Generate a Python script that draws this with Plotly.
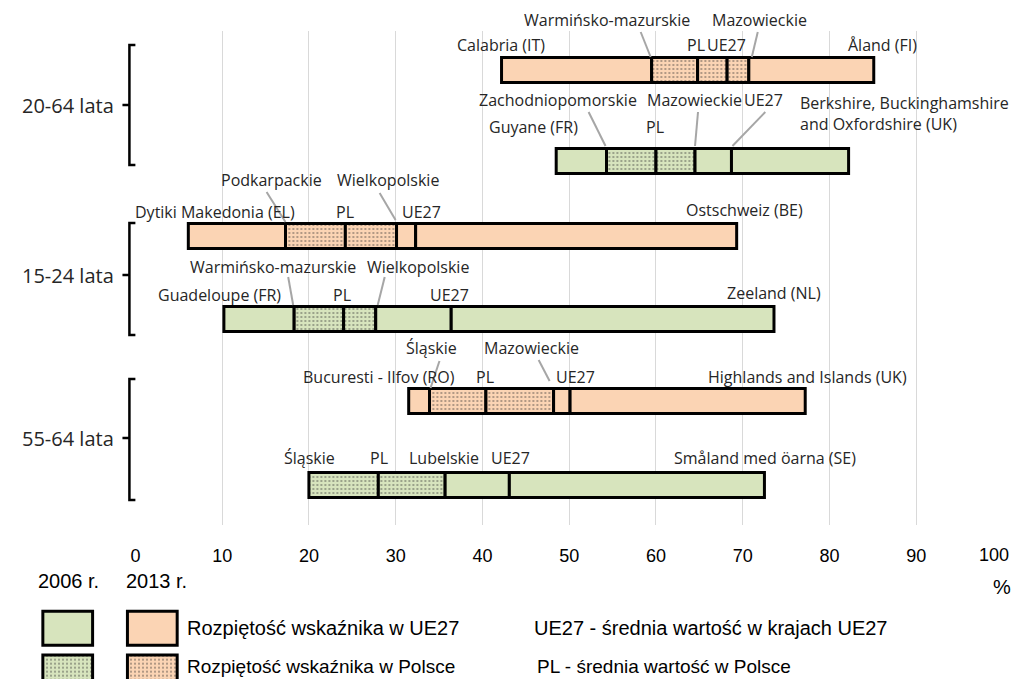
import plotly.graph_objects as go

# ---------------- DATA ----------------
AGE_GROUPS = ["20-64 lata", "15-24 lata", "55-64 lata"]
ROW_YEAR = ["2013", "2006", "2013", "2006", "2013", "2006"]
ROW_GROUP = [0, 0, 1, 1, 2, 2]

EU_MIN = [42.2, 48.5, 6.1, 10.2, 31.5, 20.0]
EU_MAX = [85.1, 82.2, 69.3, 73.6, 77.2, 72.5]
PL_MIN = [59.5, 54.3, 17.3, 18.3, 33.9, 20.0]
PL_MAX = [70.7, 64.5, 30.1, 27.7, 48.2, 35.7]
PL_AVG = [64.8, 60.0, 24.2, 24.0, 40.4, 28.0]
EU_AVG = [68.2, 68.7, 32.3, 36.4, 50.1, 43.1]

EU_MIN_REGION = ["Calabria (IT)", "Guyane (FR)", "Dytiki Makedonia (EL)",
                 "Guadeloupe (FR)", "Bucuresti - Ilfov (RO)", "Śląskie"]
EU_MAX_REGION = ["Åland (FI)", "Berkshire, Buckinghamshire<br>and Oxfordshire (UK)",
                 "Ostschweiz (BE)", "Zeeland (NL)", "Highlands and Islands (UK)",
                 "Småland med öarna (SE)"]
PL_MIN_REGION = ["Warmińsko-mazurskie", "Zachodniopomorskie", "Podkarpackie",
                 "Warmińsko-mazurskie", "Śląskie", "Śląskie"]
PL_MAX_REGION = ["Mazowieckie", "Mazowieckie", "Wielkopolskie", "Wielkopolskie",
                 "Mazowieckie", "Lubelskie"]

X_TICKS = [0, 10, 20, 30, 40, 50, 60, 70, 80, 90, 100]

LEGEND_YEARS = ["2006 r.", "2013 r."]
LEGEND_TEXT = ["Rozpiętość wskaźnika w UE27", "Rozpiętość wskaźnika w Polsce"]
LEGEND_NOTES = ["UE27 - średnia wartość w krajach UE27", "PL - średnia wartość w Polsce"]

# ---------------- LAYOUT / STYLE ----------------
OFF = 8                      # default page body margin
W, H = 1019 - 2 * OFF, 687 - 2 * OFF   # page fits the window exactly
X0_PX, X100_PX = 131, 1003
PLOT_TOP, PLOT_BOT = 31, 525
PX_PER_UNIT = (X100_PX - X0_PX) / 100.0

COLORS = {"2013": "#FBD4B4", "2006": "#D7E4BD"}
ROW_Y = [70, 161, 236, 319, 401, 485]
BAR_H = 25
TXT = "#262626"
LABEL_FONT = dict(family="Open Sans", size=16, color=TXT)
NARROW = "Liberation Sans Narrow, Arial Narrow, Liberation Sans, sans-serif"
DOT = dict(fgcolor="#333333", size=4, solidity=0.2, fillmode="overlay")

# label placement: key -> (dx px, y px, xanchor, leader(dx0,y0,dx1,y1) or None)
LABEL_POS = [
    {"eu_min": (-1, 45, "center", None), "eu_max": (9, 45, "center", None),
     "pl_min": (-45, 20, "center", (-11, 32, -1, 57)),
     "pl_max": (11, 20, "center", (9, 32, 3, 57)),
     "pl": (-2, 45, "center", None), "eu": (-1, 45, "center", None)},
    {"eu_min": (-23, 127, "center", None), "eu_max": (-51, 113, "left", None),
     "pl_min": (-49, 100, "center", (-18, 112, -1, 146)),
     "pl_max": (-1, 100, "center", (3, 112, 0, 146)),
     "pl": (-1, 127, "center", None), "eu": (32, 100, "center", (34, 112, 1, 146))},
    {"eu_min": (27, 212, "center", None), "eu_max": (8, 210, "center", None),
     "pl_min": (-14, 180, "center", (-19, 192, 0, 222)),
     "pl_max": (-9, 180, "center", (-17, 193, -1, 220)),
     "pl": (0, 212, "center", None), "eu": (6, 212, "center", None)},
    {"eu_min": (-4, 295, "center", None), "eu_max": (0, 293, "center", None),
     "pl_min": (-21, 267, "center", (-6, 277, -1, 305)),
     "pl_max": (42, 267, "center", (9, 277, 2, 305)),
     "pl": (-2, 295, "center", None), "eu": (-2, 295, "center", None)},
    {"eu_min": (-30, 377, "center", None), "eu_max": (2, 377, "center", None),
     "pl_min": (2, 348, "center", (10, 361, 1, 388)),
     "pl_max": (-22, 348, "center", (-15, 360, -4, 381)),
     "pl": (-1, 377, "center", None), "eu": (5, 377, "center", None)},
    {"eu_min": None, "eu_max": (1, 458, "center", None),
     "pl_min": (1, 458, "center", None),
     "pl_max": (-1, 458, "center", None),
     "pl": (1, 458, "center", None), "eu": (1, 458, "center", None)},
]
BRACKETS = [(45, 165, 105), (223, 335, 275), (379, 500, 438)]


def ypap(py):
    return (H - (py - OFF)) / H


def xpap(px):
    return (px - OFF) / W


fig = go.Figure()

# ---- main bars ----
for i in range(6):
    bounds = sorted(set([EU_MIN[i], PL_MIN[i], PL_AVG[i], EU_AVG[i], PL_MAX[i], EU_MAX[i]]))
    starts, widths, shapes = [], [], []
    for a, b in zip(bounds[:-1], bounds[1:]):
        starts.append(a)
        widths.append(b - a)
        shapes.append("." if (a >= PL_MIN[i] - 1e-9 and b <= PL_MAX[i] + 1e-9) else "")
    col = COLORS[ROW_YEAR[i]]
    fig.add_trace(go.Bar(
        orientation="h", y=[ROW_Y[i]] * len(starts), x=widths, base=starts,
        width=BAR_H, showlegend=False, hoverinfo="skip",
        marker=dict(color=col, line=dict(color="black", width=3),
                    pattern=dict(shape=shapes, **DOT)),
        xaxis="x", yaxis="y"))

annotations = []
shapes_list = []

# ---- bar labels ----
for i in range(6):
    items = {
        "eu_min": (EU_MIN[i], EU_MIN_REGION[i]),
        "eu_max": (EU_MAX[i], EU_MAX_REGION[i]),
        "pl_min": (PL_MIN[i], PL_MIN_REGION[i]),
        "pl_max": (PL_MAX[i], PL_MAX_REGION[i]),
        "pl": (PL_AVG[i], "PL"),
        "eu": (EU_AVG[i], "UE27"),
    }
    for key, (val, text) in items.items():
        pos = LABEL_POS[i][key]
        if pos is None:
            continue
        dx, py, xa, leader = pos
        annotations.append(dict(
            x=val, xref="x", y=ypap(py), yref="paper", xshift=dx,
            text=text, showarrow=False, xanchor=xa, yanchor="middle",
            align="left", font=LABEL_FONT))
        if leader:
            d0, y0, d1, y1 = leader
            shapes_list.append(dict(
                type="line", xref="x", yref="paper",
                x0=val + d0 / PX_PER_UNIT, x1=val + d1 / PX_PER_UNIT,
                y0=ypap(y0), y1=ypap(y1),
                line=dict(color="#A6A6A6", width=2)))

# ---- group labels + brackets ----
for g, (top, bot, mid) in enumerate(BRACKETS):
    annotations.append(dict(
        x=xpap(112), xref="paper", y=ypap(mid), yref="paper",
        text=AGE_GROUPS[g], showarrow=False, xanchor="right", yanchor="middle",
        font=dict(family="Open Sans", size=20, color=TXT)))
    xv, xs, xt = 125, 131, 118
    path = (f"M {xpap(xs)},{ypap(top)} L {xpap(xv)},{ypap(top)} "
            f"L {xpap(xv)},{ypap(bot)} L {xpap(xs)},{ypap(bot)} "
            f"M {xpap(xt)},{ypap(mid)} L {xpap(xv)},{ypap(mid)}")
    shapes_list.append(dict(type="path", xref="paper", yref="paper", path=path,
                            line=dict(color="black", width=2.5)))

# ---- legend ----


def leg_ann(px, py, text, xa="center", size=20):
    annotations.append(dict(x=xpap(px), y=ypap(py), xref="paper", yref="paper",
                            text=text, showarrow=False, xanchor=xa,
                            yanchor="middle",
                            font=dict(family=NARROW, size=size, color="black")))


leg_ann(64, 581, LEGEND_YEARS[0])
leg_ann(152, 581, LEGEND_YEARS[1])
leg_ann(1002, 587, "%")
leg_ann(181, 628, LEGEND_TEXT[0], "left")
leg_ann(530, 628, LEGEND_NOTES[0], "left")
leg_ann(181, 666, LEGEND_TEXT[1], "left", 19)
leg_ann(533, 666, LEGEND_NOTES[1], "left", 19)

# last tick label kept inside the page edge
annotations.append(dict(x=1.0, xref="paper", y=ypap(555), yref="paper",
                        text=str(X_TICKS[-1]), showarrow=False, xanchor="right",
                        yanchor="middle", font=dict(family=NARROW, size=18, color="black")))

# legend swatches as bars on a hidden helper axis (pixel units)
SW_X = {"2006": 38, "2013": 123}
SW_Y = [(611, 645), (655, 690)]
for yr in ["2006", "2013"]:
    for k, (yt, yb) in enumerate(SW_Y):
        fig.add_trace(go.Bar(
            orientation="h", y=[(yt + yb) / 2], x=[50], base=[SW_X[yr]],
            width=[yb - yt], showlegend=False, hoverinfo="skip",
            marker=dict(color=COLORS[yr], line=dict(color="black", width=3),
                        pattern=dict(shape="." if k == 1 else "", **DOT)),
            xaxis="x2", yaxis="y2"))

fig.update_layout(
    width=W, height=H, autosize=False, margin=dict(l=0, r=0, t=0, b=0),
    paper_bgcolor="white", plot_bgcolor="white", barmode="overlay",
    xaxis=dict(domain=[xpap(X0_PX), xpap(X100_PX)], range=[0, 100], tickvals=X_TICKS,
               ticktext=[str(t) for t in X_TICKS[:-1]] + [""],
               showgrid=True, gridcolor="#D9D9D9", gridwidth=1, zeroline=False,
               showline=False, ticks="", ticklabelstandoff=18,
               tickfont=dict(family=NARROW, size=18, color="black"), fixedrange=True),
    yaxis=dict(domain=[ypap(PLOT_BOT), ypap(PLOT_TOP)], range=[PLOT_BOT, PLOT_TOP],
               visible=False, showgrid=False, zeroline=False, fixedrange=True),
    xaxis2=dict(domain=[0, 1], range=[OFF, OFF + W], visible=False, anchor="y2",
                fixedrange=True),
    yaxis2=dict(domain=[0, ypap(PLOT_BOT) - 0.001], range=[OFF + H, PLOT_BOT],
                visible=False, anchor="x2", fixedrange=True),
    annotations=annotations, shapes=shapes_list,
)

fig.write_html("out.html")
